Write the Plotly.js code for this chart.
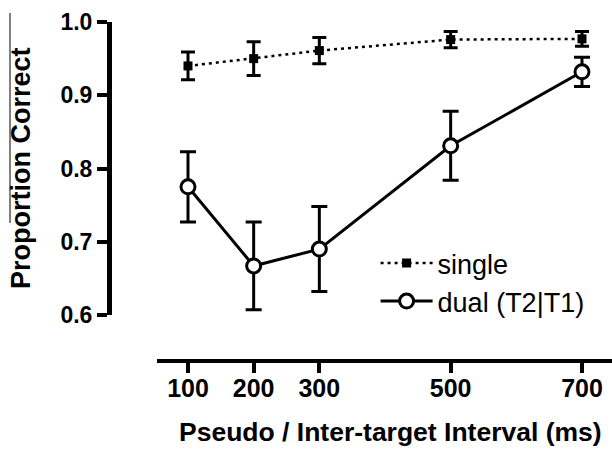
<!DOCTYPE html>
<html>
<head>
<meta charset="utf-8">
<script src="https://cdn.plot.ly/plotly-3.0.1.min.js"></script>
<style>
html,body{margin:0;padding:0;background:#fff;}
#chart{width:612px;height:451px;}
</style>
</head>
<body>
<div id="chart"></div>
<script>
// Data
const intervals = [100, 200, 300, 500, 700];
const singleMean = [0.940, 0.950, 0.961, 0.976, 0.977];
const singleErr  = [0.019, 0.023, 0.018, 0.011, 0.010];
const dualMean   = [0.775, 0.667, 0.690, 0.831, 0.932];
const dualErr    = [0.048, 0.060, 0.058, 0.047, 0.020];
const yTicks = [0.6, 0.7, 0.8, 0.9, 1.0];
const yTickText = ['0.6', '0.7', '0.8', '0.9', '1.0'];
const xTickText = ['100', '200', '300', '500', '700'];
const seriesNames = ['single', 'dual (T2|T1)'];
const xTitle = 'Pseudo / Inter-target Interval (ms)';
const yTitle = 'Proportion Correct';

const FONT = 'Liberation Sans, Arial, Helvetica, sans-serif';

const traces = [
  {
    x: intervals, y: singleMean, name: seriesNames[0], type: 'scatter', mode: 'lines+markers',
    line: {color: '#000', width: 2.5, dash: '3px,4px'},
    marker: {symbol: 'square', size: 9, color: '#000'},
    error_y: {type: 'data', array: singleErr, visible: true, color: '#000', thickness: 3, width: 7},
    cliponaxis: false
  },
  {
    x: intervals, y: dualMean, name: seriesNames[1], type: 'scatter', mode: 'lines+markers',
    line: {color: '#000', width: 3},
    marker: {symbol: 'circle', size: 14, color: '#fff', line: {color: '#000', width: 3}},
    error_y: {type: 'data', array: dualErr, visible: true, color: '#000', thickness: 3, width: 8},
    cliponaxis: false
  }
];

const layout = {
  width: 612, height: 451,
  margin: {l: 109, r: 0, t: 22, b: 90, pad: 0},
  paper_bgcolor: '#fff', plot_bgcolor: '#fff',
  font: {family: FONT, color: '#000'},
  showlegend: true,
  legend: {
    x: 0.53, y: 0.36, xanchor: 'left', yanchor: 'top',
    font: {family: FONT, size: 27, color: '#000'},
    bgcolor: 'rgba(0,0,0,0)', borderwidth: 0, tracegroupgap: 4, itemwidth: 52
  },
  xaxis: {
    anchor: 'free', position: 0, domain: [48/503, 1],
    range: [52.8, 745.7],
    showline: true, linecolor: '#000', linewidth: 4,
    ticks: 'outside', ticklen: 10, tickwidth: 4, tickcolor: '#000',
    tickvals: intervals, ticktext: xTickText, ticklabelstandoff: -6,
    tickfont: {family: FONT, size: 25, color: '#000', weight: 'bold'},
    showgrid: false, zeroline: false, fixedrange: true
  },
  yaxis: {
    anchor: 'free', position: 0, domain: [46/339, 1],
    range: [0.6, 1.0],
    showline: true, linecolor: '#000', linewidth: 4.5,
    ticks: 'outside', ticklen: 10, tickwidth: 4, tickcolor: '#000',
    tickvals: yTicks, ticktext: yTickText,
    tickfont: {family: FONT, size: 23, color: '#000', weight: 'bold'},
    showgrid: false, zeroline: false, fixedrange: true
  },
  annotations: [
    {
      text: xTitle, xref: 'paper', yref: 'paper', x: (390-109)/503, y: (361-432)/339,
      xanchor: 'center', yanchor: 'middle', showarrow: false,
      font: {family: FONT, size: 26.5, color: '#000', weight: 'bold'}
    },
    {
      text: yTitle, xref: 'paper', yref: 'paper', x: (21-109)/503, y: (361-168)/339,
      xanchor: 'center', yanchor: 'middle', showarrow: false, textangle: -90,
      font: {family: FONT, size: 27, color: '#000', weight: 'bold'}
    }
  ],
  shapes: [
    {type: 'line', xref: 'paper', yref: 'paper', x0: (10-109)/503, x1: (10-109)/503,
     y0: (361-13)/339, y1: (361-223)/339, line: {color: '#000', width: 1}}
  ]
};

Plotly.newPlot('chart', traces, layout, {displayModeBar: false, staticPlot: true});
</script>
</body>
</html>
